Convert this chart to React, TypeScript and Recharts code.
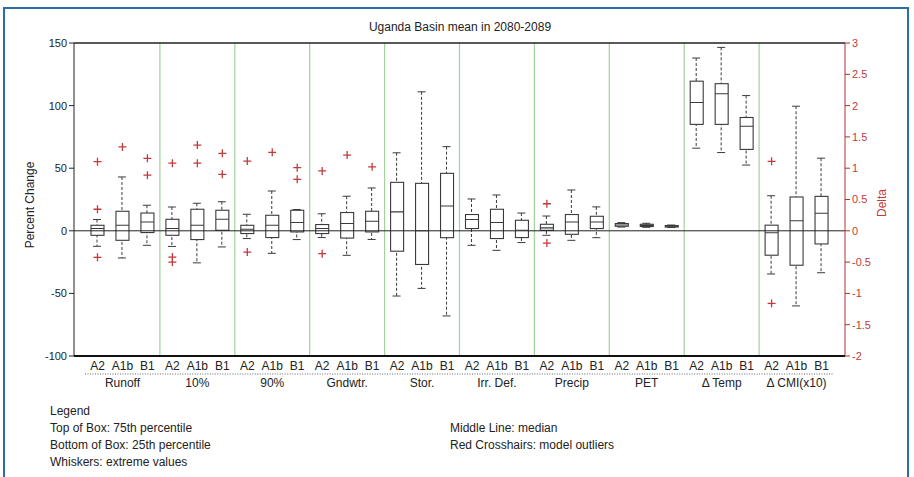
import React from "react";
import { ComposedChart, Bar, Line, XAxis, YAxis, ReferenceLine } from "recharts";

const GROUPS = ["Runoff", "10%", "90%", "Gndwtr.", "Stor.", "Irr. Def.", "Precip", "PET", "\u0394 Temp", "\u0394 CMI(x10)"];
const SCENARIOS = ["A2", "A1b", "B1"];
// these two groups are read against the right-hand "Delta" axis
const RIGHT_AXIS_GROUPS = ["\u0394 Temp", "\u0394 CMI(x10)"];

const LEFT_TICKS = [-100, -50, 0, 50, 100, 150];
const RIGHT_TICKS = [-2, -1.5, -1, -0.5, 0, 0.5, 1, 1.5, 2, 2.5, 3];

// one value per box: group by group, A2 / A1b / B1
const lowWhisker = [
  -12.4, -21.7, -11.6, -12.5, -25.6, -12.9, -6.2, -18, -7, -5.4, -19.6, -6.9, -52.1, -46, -68,
  -11.6, -15.6, -9.4, -3.6, -7.6, -5.5, 3.0, 2.8, 2.6, 1.32, 1.25, 1.05, -0.69, -1.2, -0.67,
];
const q1 = [
  -3.6, -7.6, -1.4, -3.6, -7.0, 0.4, -2.2, -5.4, -0.9, -2.2, -5.8, -0.9, -16.3, -26.9, -5.5,
  1.8, -6.2, -5.4, 0.4, -2.8, 1.8, 3.6, 3.4, 3.0, 1.7, 1.7, 1.3, -0.39, -0.55, -0.21,
];
const median = [
  1.8, 4.4, 7.0, 1.8, 4.4, 9.2, 1.2, 4.4, 6.6, 1.8, 5.8, 7.6, 15.1, 0, 19.8,
  9.0, 6.6, 0.4, 2.3, 7.0, 7.0, 4.6, 4.2, 3.6, 2.05, 2.19, 1.67, -0.03, 0.16, 0.28,
];
const q3 = [
  4.4, 15.6, 14.2, 9.2, 17.2, 16.4, 4.4, 12.4, 16.4, 5, 14.6, 15.6, 38.7, 37.9, 45.9,
  13, 17.2, 8.4, 5.2, 13, 11.6, 5.8, 5.2, 4.2, 2.39, 2.35, 1.81, 0.09, 0.54, 0.55,
];
const highWhisker = [
  9.0, 43, 20.4, 19.0, 22, 23.2, 13.2, 31.8, 17, 13.6, 27.6, 34.2, 62.3, 111, 67.2,
  25.4, 28.6, 14.2, 11.8, 32.6, 19.1, 6.5, 6.0, 4.6, 2.76, 2.93, 2.16, 0.56, 1.99, 1.16,
];
const outliers: number[][] = [
  [17.2, 55.2, -21.2], [67], [57.9, 44.4],
  [54, -21, -25], [68.5, 54], [61.9, 45.1],
  [55.7, -17], [62.7], [50.4, 41.1],
  [47.8, -18.3], [60.5], [51.1],
  [], [], [],
  [], [], [],
  [21.6, -9.8], [], [],
  [], [], [],
  [], [], [],
  [1.11, -1.16], [], [],
];

const AXIS_RATIO =
  (LEFT_TICKS[LEFT_TICKS.length - 1] - LEFT_TICKS[0]) / (RIGHT_TICKS[RIGHT_TICKS.length - 1] - RIGHT_TICKS[0]);

const data = GROUPS.flatMap((g, gi) =>
  SCENARIOS.map((s, si) => {
    const i = gi * 3 + si;
    const k = RIGHT_AXIS_GROUPS.includes(g) ? AXIS_RATIO : 1;
    const outs = outliers[i].map((v) => v * k);
    return {
      key: `${g}|${s}`,
      range: [lowWhisker[i] * k, highWhisker[i] * k],
      iqr: [q1[i] * k, q3[i] * k],
      median: median[i] * k,
      o1: outs[0] ?? null,
      o2: outs[1] ?? null,
      o3: outs[2] ?? null,
    };
  })
);

const BOX = "#3a3a3a";
const RED = "#c23b3b";

const norm = (y: number, h: number) => [Math.min(y, y + h), Math.max(y, y + h)];

const Whisker = (props: any) => {
  const { x, y, width, height } = props;
  const [top, bottom] = norm(y, height);
  const cx = x + width / 2;
  return (
    <g stroke={BOX} strokeWidth={1}>
      <line x1={cx} x2={cx} y1={top} y2={bottom} strokeDasharray="3 2" />
      <line x1={x} x2={x + width} y1={top} y2={top} />
      <line x1={x} x2={x + width} y1={bottom} y2={bottom} />
    </g>
  );
};

const Box = (props: any) => {
  const { x, y, width, height } = props;
  const [top, bottom] = norm(y, height);
  return <rect x={x} y={top} width={width} height={Math.max(bottom - top, 1)} fill="#fff" stroke={BOX} strokeWidth={1.1} />;
};

const MedianDot = (props: any) => {
  const { cx, cy, index } = props;
  if (cy == null || isNaN(cy)) return <g key={`m${index}`} />;
  return <line key={`m${index}`} x1={cx - 6.5} x2={cx + 6.5} y1={cy} y2={cy} stroke={BOX} strokeWidth={1.1} />;
};

const PlusDot = (props: any) => {
  const { cx, cy, index, dataKey } = props;
  if (cy == null || isNaN(cy) || props.value == null) return <g key={`${dataKey}${index}`} />;
  return (
    <g key={`${dataKey}${index}`} stroke={RED} strokeWidth={1.3}>
      <line x1={cx - 4} x2={cx + 4} y1={cy} y2={cy} />
      <line x1={cx} x2={cx} y1={cy - 4} y2={cy + 4} />
    </g>
  );
};

const ScenarioTick = (props: any) => {
  const { x, y, payload } = props;
  const [g, s] = String(payload.value).split("|");
  return (
    <g>
      <text x={x} y={y + 14} textAnchor="middle" fontSize={12} fill="#222">
        {s}
      </text>
      <line x1={x - 12.5} x2={x + 12.5} y1={y + 18} y2={y + 18} stroke="#666" strokeDasharray="1 1.5" />
      {s === "A1b" && (
        <text x={x} y={y + 31} textAnchor="middle" fontSize={12} fill="#222">
          {g}
        </text>
      )}
    </g>
  );
};

const txt: React.CSSProperties = { position: "absolute", fontSize: 12, color: "#222", whiteSpace: "nowrap" };

export default function App() {
  return (
    <div
      style={{
        position: "absolute",
        left: 0,
        top: 0,
        width: 914,
        height: 477,
        background: "#fff",
        fontFamily: "'Liberation Sans', Arial, sans-serif",
        overflow: "hidden",
      }}
    >
      <div style={{ position: "absolute", left: 3, top: 7, width: 902, height: 480, border: "2px solid #2e6da4" }} />
      <div style={{ ...txt, left: 0, width: 920, top: 20, textAlign: "center" }}>Uganda Basin mean in 2080-2089</div>
      <div style={{ ...txt, left: 30, top: 205, transform: "translate(-50%, -50%) rotate(-90deg)" }}>Percent Change</div>
      <div style={{ ...txt, left: 882, top: 203, color: RED, transform: "translate(-50%, -50%) rotate(-90deg)" }}>Delta</div>

      <div style={{ position: "absolute", left: 0, top: 0 }}>
        <ComposedChart width={914} height={477} data={data} margin={{ top: 43, right: 29, bottom: 81, left: 34 }}>
          <XAxis
            xAxisId="x"
            dataKey="key"
            interval={0}
            padding={{ left: 11, right: 11 }}
            height={40}
            tickSize={0}
            tickMargin={0}
            tick={<ScenarioTick />}
            axisLine={{ stroke: "#111", strokeWidth: 2 }}
          />
          <XAxis xAxisId="w" dataKey="key" hide height={0} padding={{ left: 11, right: 11 }} />
          <XAxis xAxisId="b" dataKey="key" hide height={0} padding={{ left: 11, right: 11 }} />
          <YAxis
            yAxisId="l"
            domain={[LEFT_TICKS[0], LEFT_TICKS[LEFT_TICKS.length - 1]]}
            ticks={LEFT_TICKS}
            allowDataOverflow
            width={40}
            tickSize={5}
            tickMargin={2}
            tick={{ fill: "#222", fontSize: 11 }}
            axisLine={{ stroke: "#222" }}
            tickLine={{ stroke: "#222" }}
          />
          <YAxis
            yAxisId="r"
            orientation="right"
            domain={[RIGHT_TICKS[0], RIGHT_TICKS[RIGHT_TICKS.length - 1]]}
            ticks={RIGHT_TICKS}
            allowDataOverflow
            width={40}
            tickSize={5}
            tickMargin={2}
            tick={{ fill: RED, fontSize: 11 }}
            axisLine={{ stroke: "#b03030" }}
            tickLine={{ stroke: "#b03030" }}
          />
          {GROUPS.slice(1).map((g) => (
            <ReferenceLine
              key={g}
              xAxisId="x"
              yAxisId="l"
              x={`${g}|A2`}
              position="start"
              stroke="#9fd49a"
              strokeWidth={1.2}
            />
          ))}
          <ReferenceLine xAxisId="x" yAxisId="l" y={0} stroke="#222" strokeWidth={1} />
          <ReferenceLine xAxisId="x" yAxisId="l" y={LEFT_TICKS[LEFT_TICKS.length - 1]} stroke="#222" strokeWidth={1.5} />
          <Bar xAxisId="w" yAxisId="l" dataKey="range" barSize={8} shape={<Whisker />} isAnimationActive={false} />
          <Bar xAxisId="b" yAxisId="l" dataKey="iqr" barSize={13} shape={<Box />} isAnimationActive={false} />
          <Line
            xAxisId="b"
            yAxisId="l"
            dataKey="median"
            stroke="none"
            dot={MedianDot}
            activeDot={false}
            isAnimationActive={false}
          />
          {["o1", "o2", "o3"].map((k) => (
            <Line
              key={k}
              xAxisId="x"
              yAxisId="l"
              dataKey={k}
              stroke="none"
              dot={PlusDot}
              activeDot={false}
              isAnimationActive={false}
            />
          ))}
        </ComposedChart>
      </div>

      <div style={{ ...txt, left: 50, top: 404 }}>Legend</div>
      <div style={{ ...txt, left: 50, top: 421 }}>Top of Box: 75th percentile</div>
      <div style={{ ...txt, left: 50, top: 438 }}>Bottom of Box: 25th percentile</div>
      <div style={{ ...txt, left: 50, top: 455 }}>Whiskers: extreme values</div>
      <div style={{ ...txt, left: 450, top: 421 }}>Middle Line: median</div>
      <div style={{ ...txt, left: 450, top: 438 }}>Red Crosshairs: model outliers</div>
    </div>
  );
}
